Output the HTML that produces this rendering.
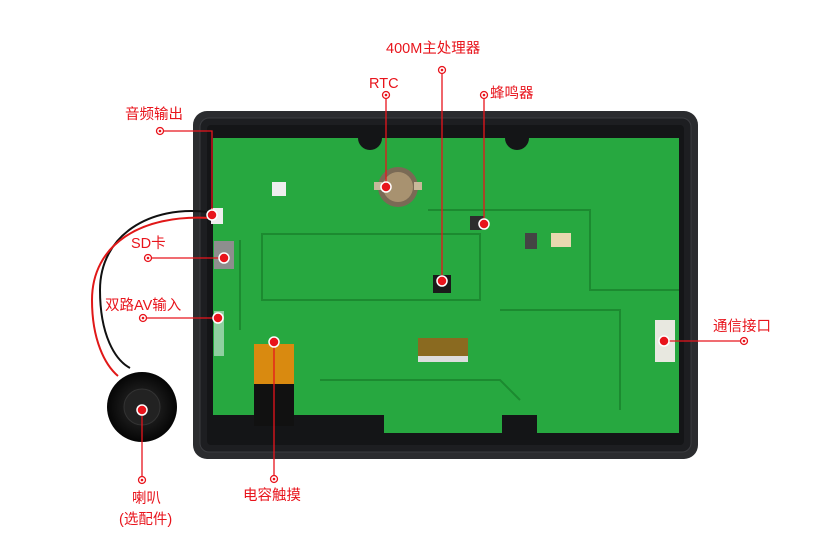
<!DOCTYPE html>
<html><head><meta charset="utf-8"><style>
html,body{margin:0;padding:0;background:#fff;}
svg{display:block}
text{font-family:"Liberation Sans","Noto Sans CJK SC",sans-serif;fill:#e8141c;font-size:14.5px}
</style></head><body>
<svg width="836" height="553" viewBox="0 0 836 553" xmlns="http://www.w3.org/2000/svg">
<defs>
<radialGradient id="spk" cx="50%" cy="50%" r="50%">
<stop offset="0" stop-color="#2a2a2a"/><stop offset="0.6" stop-color="#161616"/><stop offset="1" stop-color="#050505"/>
</radialGradient>
</defs>
<!-- enclosure -->
<rect x="193" y="111" width="505" height="348" rx="14" fill="#2b2c2f"/>
<rect x="200" y="118" width="491" height="334" rx="9" fill="#1d1e21" stroke="#3b3c40" stroke-width="1"/>
<rect x="207" y="125" width="477" height="320" rx="4" fill="#141517"/>
<!-- board -->
<path d="M213,138 L358,138 A12,12 0 0 0 382,138 L505,138 A12,12 0 0 0 529,138 L679,138 L679,433 L537,433 L537,415 L502,415 L502,433 L384,433 L384,415 L213,415 Z" fill="#27a840"/>
<path d="M262,234 L480,234 L480,300 L262,300 Z" fill="none" stroke="#1c8a30" stroke-width="2"/>
<path d="M428,210 L590,210 L590,290 L679,290" fill="none" stroke="#1c8a30" stroke-width="2"/>
<path d="M240,240 L240,330 M500,310 L620,310 L620,410 M320,380 L500,380 L520,400" fill="none" stroke="#1c8a30" stroke-width="2"/>
<!-- components -->
<circle cx="398" cy="187" r="20" fill="#7a6a55"/><circle cx="398" cy="187" r="15" fill="#a89270"/>
<rect x="374" y="182" width="8" height="8" fill="#c8b89a"/><rect x="414" y="182" width="8" height="8" fill="#c8b89a"/>
<rect x="470" y="216" width="14" height="14" fill="#2d2d2d"/>
<rect x="433" y="275" width="18" height="18" fill="#1a1a1a"/>
<rect x="525" y="233" width="12" height="16" fill="#444"/><rect x="551" y="233" width="20" height="14" fill="#e8d8b0"/>
<rect x="418" y="338" width="50" height="18" fill="#8a6a20"/><rect x="418" y="356" width="50" height="6" fill="#ddd"/>
<rect x="254" y="344" width="40" height="40" fill="#d98a10"/><rect x="254" y="384" width="40" height="42" fill="#111"/>
<rect x="214" y="241" width="20" height="28" fill="#8e8e8e"/>
<rect x="214" y="311" width="10" height="45" fill="#8fd0a0"/>
<rect x="655" y="320" width="20" height="42" fill="#e8e8e0"/>
<rect x="272" y="182" width="14" height="14" fill="#eee"/>
<rect x="211" y="208" width="12" height="16" fill="#eee"/>
<!-- wires -->
<path d="M208,212 C150,205 100,235 100,290 C100,335 115,360 130,368" fill="none" stroke="#111" stroke-width="2"/>
<path d="M210,218 C140,214 92,245 92,300 C92,340 105,365 118,376" fill="none" stroke="#e01818" stroke-width="2"/>
<!-- speaker -->
<circle cx="142" cy="407" r="35" fill="url(#spk)"/>
<circle cx="142" cy="407" r="18" fill="#222" stroke="#333"/>
<!-- connectors -->
<g stroke="#e8141c" stroke-width="1.3" fill="none">
<path d="M160,131 L212,131 L212,215"/>
<path d="M386,95 L386,187"/>
<path d="M442,70 L442,281"/>
<path d="M484,95 L484,224"/>
<path d="M148,258 L224,258"/>
<path d="M143,318 L218,318"/>
<path d="M664,341 L744,341"/>
<path d="M274,342 L274,479"/>
<path d="M142,410 L142,480"/>
</g>
<g fill="#e8141c" stroke="#fff" stroke-width="1.5">
<circle cx="212" cy="215" r="5"/><circle cx="386" cy="187" r="5"/><circle cx="442" cy="281" r="5"/>
<circle cx="484" cy="224" r="5"/><circle cx="224" cy="258" r="5"/><circle cx="218" cy="318" r="5"/>
<circle cx="664" cy="341" r="5"/><circle cx="274" cy="342" r="5"/><circle cx="142" cy="410" r="5"/>
</g>
<g fill="#fff" stroke="#e8141c" stroke-width="1.3">
<circle cx="160" cy="131" r="3.5"/><circle cx="386" cy="95" r="3.5"/><circle cx="442" cy="70" r="3.5"/>
<circle cx="484" cy="95" r="3.5"/><circle cx="148" cy="258" r="3.5"/><circle cx="143" cy="318" r="3.5"/>
<circle cx="744" cy="341" r="3.5"/><circle cx="274" cy="479" r="3.5"/><circle cx="142" cy="480" r="3.5"/>
</g>
<g fill="#e8141c"><circle cx="160" cy="131" r="1.3"/><circle cx="386" cy="95" r="1.3"/><circle cx="442" cy="70" r="1.3"/><circle cx="484" cy="95" r="1.3"/><circle cx="148" cy="258" r="1.3"/><circle cx="143" cy="318" r="1.3"/><circle cx="744" cy="341" r="1.3"/><circle cx="274" cy="479" r="1.3"/><circle cx="142" cy="480" r="1.3"/></g>
<text x="386" y="53">400M主处理器</text>
<text x="369" y="88">RTC</text>
<text x="490" y="98">蜂鸣器</text>
<text x="125" y="119">音频输出</text>
<text x="131" y="248">SD卡</text>
<text x="105" y="310">双路AV输入</text>
<text x="713" y="331">通信接口</text>
<text x="243" y="500">电容触摸</text>
<text x="132" y="503">喇叭</text>
<text x="119" y="524">(选配件)</text>
</svg>
</body></html>
